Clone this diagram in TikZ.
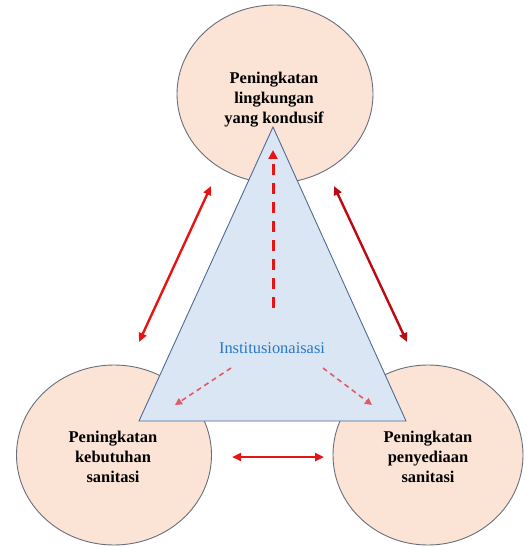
\documentclass[tikz,border=0pt]{standalone}
\usepackage{fontspec}
\setmainfont{Liberation Serif}
\usetikzlibrary{shapes.geometric,arrows.meta}
\definecolor{peach}{RGB}{251,228,213}
\definecolor{circedge}{RGB}{105,110,125}
\definecolor{trifill}{RGB}{219,230,244}
\definecolor{triedge}{RGB}{80,105,150}
\definecolor{arrred}{RGB}{230,20,20}
\definecolor{arrdark}{RGB}{190,10,20}
\definecolor{pinkred}{RGB}{225,90,100}
\definecolor{instblue}{RGB}{40,120,200}
\tikzset{
  bubble/.style={ellipse, draw=circedge, line width=0.9bp, fill=peach, inner sep=0pt},
  tri/.style={draw=triedge, line width=0.9bp, fill=trifill},
  lbl/.style={font=\fontsize{16.5}{20}\selectfont\bfseries, align=center, text=black},
  inst/.style={font=\fontsize{16.5}{20}\selectfont, text=instblue},
  dbl/.style={{Triangle[length=9bp,width=8bp]}-{Triangle[length=9bp,width=8bp]}, line width=2.4bp},
  updash/.style={-{Triangle[length=9bp,width=9bp]}, line width=3bp, arrred, dash pattern=on 11bp off 8bp},
  smalldash/.style={-{Triangle[length=7bp,width=7bp]}, line width=1.6bp, pinkred, dash pattern=on 5bp off 4bp}
}
\begin{document}
\begin{tikzpicture}[x=1bp,y=-1bp]
\useasboundingbox (0,0) rectangle (527,547);
% circles
\node[bubble, minimum width=196bp, minimum height=178bp] (top) at (275,94) {};
\node[bubble, minimum width=195bp, minimum height=180bp] (left) at (114,455) {};
\node[bubble, minimum width=190bp, minimum height=180bp] (right) at (428,455) {};
% triangle
\coordinate (apex) at (273,127);
\coordinate (bl) at (139,421);
\coordinate (br) at (406,421);
\draw[tri] (apex) -- (bl) -- (br) -- cycle;
% coordinates for arrows
\coordinate (ltop) at (211,186);
\coordinate (lbot) at (139,342);
\coordinate (rtop) at (334,186);
\coordinate (rbot) at (407,342);
\coordinate (hl) at (232,457);
\coordinate (hr) at (324,457);
\coordinate (vs) at (273,308);
\coordinate (ve) at (273,150);
\coordinate (dls) at (231,368);
\coordinate (dle) at (175,405);
\coordinate (drs) at (323,368);
\coordinate (dre) at (372,405);
% arrows
\draw[dbl, arrred] (lbot) -- (ltop);
\draw[dbl, arrdark] (rtop) -- (rbot);
\draw[dbl, arrred] (hl) -- (hr);
\draw[updash] (vs) -- (ve);
\draw[smalldash] (dls) -- (dle);
\draw[smalldash] (drs) -- (dre);
% texts
\node[lbl] (ttop) at (274,100) {Peningkatan\\lingkungan\\yang kondusif};
\node[lbl] (tleft) at (113,457) {Peningkatan\\kebutuhan\\sanitasi};
\node[lbl] (tright) at (428,457) {Peningkatan\\penyediaan\\sanitasi};
\node[inst] (tinst) at (272,348) {Institusionaisasi};
\end{tikzpicture}
\end{document}
